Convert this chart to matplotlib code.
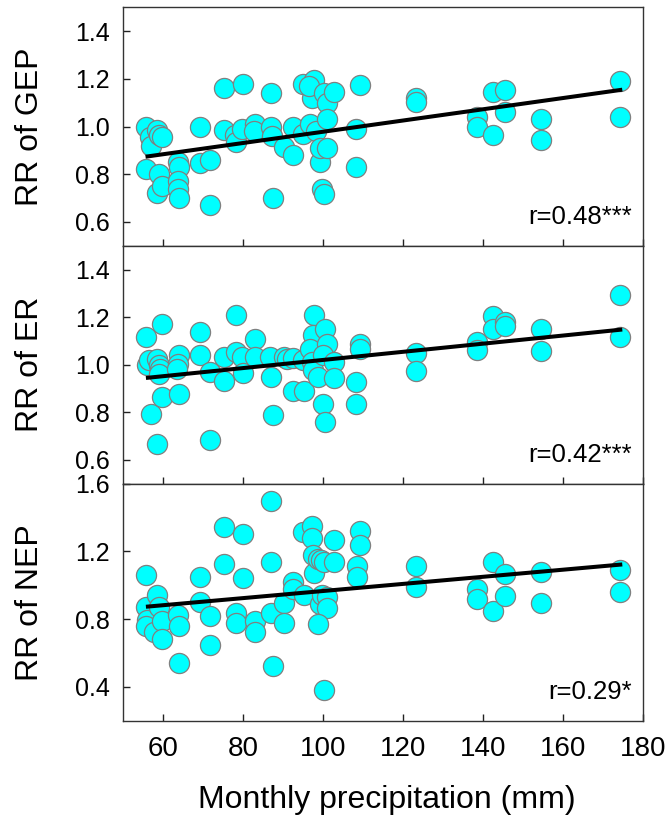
import numpy as np
import matplotlib
matplotlib.use("Agg")
import matplotlib.pyplot as plt

plt.rcParams['font.family'] = ['Liberation Sans', 'DejaVu Sans']

# RR of GEP vs monthly precipitation
gep_x = [55.9, 56.8, 57.0, 58.5, 59.0, 59.8, 55.8, 59.0, 58.6, 59.8,
         63.7, 64.0, 63.7, 63.7, 64.0, 69.2, 69.2, 71.7, 71.7, 75.4,
         75.4, 78.1, 78.4, 80.0, 79.8, 83.1, 82.8, 87.0, 87.0, 87.3,
         87.5, 90.2, 92.5, 92.5, 95.0, 95.0, 96.8, 97.2, 97.8, 96.6,
         98.2, 99.2, 99.4, 99.7, 100.2, 100.4, 101.0, 101.1, 101.1, 102.8,
         109.3, 108.3, 108.3, 123.3, 123.3, 138.6, 138.6, 142.5, 142.5, 145.5,
         145.5, 154.5, 154.5, 174.3, 174.3]
gep_y = [1.00, 0.955, 0.92, 0.985, 0.965, 0.955, 0.82, 0.80, 0.72, 0.75,
         0.85, 0.83, 0.77, 0.74, 0.70, 1.00, 0.845, 0.86, 0.67, 1.16,
         0.985, 0.965, 0.935, 1.18, 0.99, 1.01, 0.98, 1.14, 1.00, 0.96,
         0.70, 0.915, 1.00, 0.88, 1.18, 0.97, 1.01, 1.12, 1.195, 1.17,
         0.98, 0.85, 0.91, 0.74, 0.715, 1.14, 1.10, 1.03, 0.912, 1.145,
         1.175, 0.99, 0.83, 1.12, 1.105, 1.04, 1.00, 1.145, 0.963, 1.155,
         1.06, 1.03, 0.945, 1.19, 1.04]

# RR of ER vs monthly precipitation
er_x = [55.9, 59.7, 56.1, 56.6, 58.6, 59.0, 59.2, 59.0, 57.1, 58.6,
        59.7, 64.0, 63.7, 63.6, 64.0, 69.2, 69.2, 71.7, 71.7, 75.4,
        75.4, 78.4, 78.4, 79.8, 80.0, 83.1, 83.1, 86.7, 87.0, 87.5,
        90.2, 91.0, 92.5, 92.5, 95.3, 95.0, 97.8, 97.5, 96.8, 97.2,
        97.6, 98.9, 100.6, 101.1, 100.0, 102.8, 102.8, 100.1, 100.6, 109.3,
        109.3, 108.3, 108.3, 123.3, 123.3, 138.6, 138.6, 142.5, 142.5, 145.5,
        145.5, 154.5, 154.5, 174.3, 174.3]
er_y = [1.116, 1.172, 1.0, 1.018, 1.025, 0.997, 0.983, 0.962, 0.794, 0.668,
        0.864, 1.04, 1.004, 0.983, 0.875, 1.137, 1.04, 0.969, 0.682, 1.032,
        0.931, 1.211, 1.053, 1.032, 0.965, 1.106, 1.032, 1.032, 0.948, 0.787,
        1.032, 1.025, 1.03, 0.89, 0.89, 1.018, 1.211, 1.123, 1.067, 1.011,
        0.976, 0.948, 1.151, 1.088, 1.04, 1.011, 0.945, 0.836, 0.759, 1.088,
        1.067, 0.927, 0.836, 1.049, 0.973, 1.095, 1.06, 1.203, 1.151, 1.179,
        1.161, 1.151, 1.057, 1.294, 1.116]

# RR of NEP vs monthly precipitation
nep_x = [55.9, 55.9, 56.1, 55.9, 58.6, 59.0, 57.8, 59.8, 59.8, 63.7,
         64.0, 64.0, 69.2, 69.2, 71.7, 71.7, 75.4, 75.4, 78.4, 78.4,
         80.0, 80.0, 83.1, 83.1, 87.0, 87.0, 87.0, 87.5, 90.4, 90.4,
         92.5, 92.5, 95.0, 95.3, 97.2, 97.2, 97.6, 97.8, 98.9, 99.6,
         100.4, 102.8, 102.8, 99.3, 99.9, 101.1, 101.1, 98.9, 100.2, 109.3,
         109.3, 108.5, 108.5, 123.3, 123.3, 138.6, 138.6, 142.5, 142.5, 145.5,
         145.5, 154.5, 154.5, 174.3, 174.3]
nep_y = [1.06, 0.874, 0.796, 0.757, 0.943, 0.874, 0.722, 0.786, 0.683, 0.825,
         0.757, 0.538, 1.05, 0.904, 0.816, 0.65, 1.347, 1.128, 0.839, 0.78,
         1.30, 1.04, 0.786, 0.722, 1.50, 1.138, 0.839, 0.526, 0.894, 0.78,
         1.02, 0.98, 1.314, 0.943, 1.353, 1.28, 1.177, 1.07, 1.157, 1.148,
         1.138, 1.265, 1.138, 0.89, 0.943, 0.932, 0.864, 0.773, 0.382, 1.323,
         1.236, 1.112, 1.046, 1.112, 0.991, 0.976, 0.917, 1.138, 0.849, 1.066,
         0.937, 1.079, 0.897, 1.093, 0.962]

# linear fits (slope, intercept) and correlation labels
fits = [(0.00236, 0.742), (0.00171, 0.849), (0.00210, 0.756)]
r_labels = ["r=0.48***", "r=0.42***", "r=0.29*"]
y_labels = ["RR of GEP", "RR of ER", "RR of NEP"]
y_ticks = [[0.6, 0.8, 1.0, 1.2, 1.4], [0.6, 0.8, 1.0, 1.2, 1.4], [0.4, 0.8, 1.2, 1.6]]
y_lims = [(0.5, 1.5), (0.5, 1.5), (0.2, 1.6)]
x_ticks = [60, 80, 100, 120, 140, 160, 180]

panels = [(gep_x, gep_y), (er_x, er_y), (nep_x, nep_y)]

fig = plt.figure(figsize=(6.68, 8.26), dpi=100)
left, width = 0.1837, 0.779
bottoms = [0.7025, 0.4144, 0.1275]
heights = [0.2886, 0.2881, 0.2869]

for i, (xs, ys) in enumerate(panels):
    ax = fig.add_axes([left, bottoms[i], width, heights[i]])
    ax.scatter(xs, ys, s=210, facecolor='#00ffff', edgecolor='#808080',
               linewidth=0.9, zorder=2)
    # regression line over the sampled precipitation range
    slope, icpt = fits[i]
    lx = np.array([min(xs) + 0.4, max(xs)])
    ax.plot(lx, slope * lx + icpt, color='black', lw=2.9, zorder=3)

    ax.set_xlim(50, 180)
    ax.set_ylim(*y_lims[i])
    ax.set_xticks(x_ticks)
    ax.set_yticks(y_ticks[i])
    ax.set_yticklabels([f"{t:.1f}" for t in y_ticks[i]])
    ax.tick_params(direction='in', length=5, width=1, colors='#222222',
                   labelcolor='black')
    ax.tick_params(axis='y', labelsize=18, pad=9)
    ax.tick_params(axis='x', labelsize=20, pad=11)
    if i < 2:
        ax.tick_params(axis='x', labelbottom=False)
    for sp in ax.spines.values():
        sp.set_color('#333333')
        sp.set_linewidth(1)

    ax.text(0.978, 0.09, r_labels[i], transform=ax.transAxes, ha='right',
            va='baseline', fontsize=18.5)
    fig.text(30 / 668, bottoms[i] + heights[i] / 2, y_labels[i], rotation=90,
             ha='center', va='center', fontsize=23)

fig.text(387 / 668, 0.031, "Monthly precipitation (mm)", ha='center',
         va='center', fontsize=23)

fig.savefig("out.png", dpi=100)
